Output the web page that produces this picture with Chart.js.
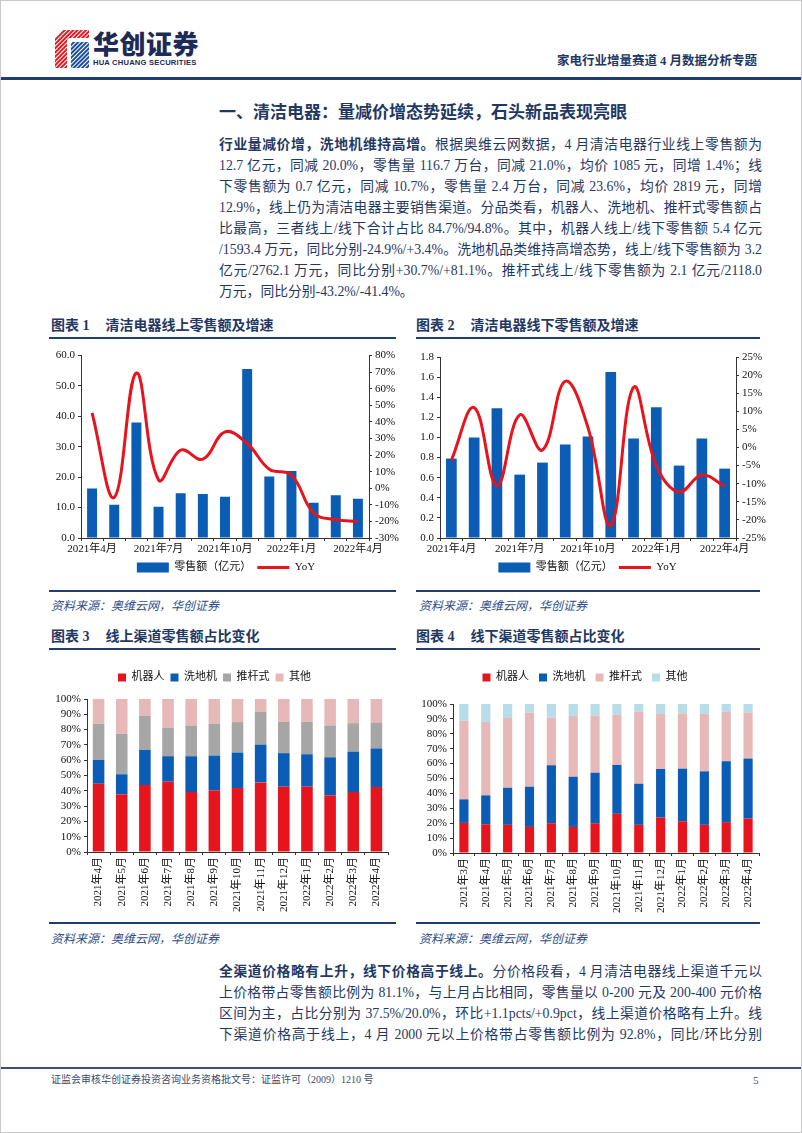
<!DOCTYPE html>
<html>
<head>
<meta charset="utf-8">
<script src="https://cdn.jsdelivr.net/npm/chart.js@4.4.0/dist/chart.umd.min.js"></script>
<style>
    body { margin: 0; background: #fff; }
    #page { position: relative; width: 802px; height: 1133px; overflow: hidden; background: #fff;
        font-family: "Liberation Serif", "Noto Sans CJK SC", serif; color: #1f3864; box-sizing: border-box; border: 1px solid #c8c8c8; }
    .abs { position: absolute; }
    .rule { position: absolute; background: #1f3d6e; }
    .para { position: absolute; left: 218px; width: 543px; font-size: 13.8px; }
    .para div { height: 21px; line-height: 21px; text-align: justify; text-align-last: justify; }
    .para div.last { text-align-last: left; }
    .para b { font-weight: bold; }
    .figtitle { position: absolute; font-size: 14px; font-weight: bold; white-space: nowrap; }
    .figtitle span { margin-left: 16px; }
    .source { position: absolute; font-size: 12px; font-style: italic; color: #2f4d86; white-space: nowrap; }
    canvas { position: absolute; }
</style>
</head>
<body>
<div id="page">
    <!-- 页眉 -->
    <svg class="abs" style="left:54px;top:29px" width="34" height="38" viewBox="0 0 34 38">
        <defs>
            <pattern id="stR" width="3" height="3" patternUnits="userSpaceOnUse" patternTransform="rotate(45)">
                <rect width="2" height="3" fill="#e21a22"></rect>
            </pattern>
            <pattern id="stB" width="3" height="3" patternUnits="userSpaceOnUse" patternTransform="rotate(45)">
                <rect width="2" height="3" fill="#1d4fa0"></rect>
            </pattern>
        </defs>
        <polygon points="8,0 34,0 34,8 14,8 12,10 12,38 0,38 0,8" fill="url(#stR)"></polygon>
        <polygon points="16,12 34,12 34,38 16,38" fill="url(#stB)"></polygon>
    </svg>
    <div class="abs" style="left:92px;top:26px;font-family:'Noto Sans CJK SC';font-weight:900;font-size:26px;color:#1c2a55;letter-spacing:0.5px;line-height:32px">华创证券</div>
    <div class="abs" style="left:92px;top:57px;font-family:'Liberation Sans';font-weight:bold;font-size:7.6px;color:#1c2a55;line-height:9px;letter-spacing:0.2px">HUA CHUANG SECURITIES</div>
    <div class="abs" style="right:44px;top:52px;font-size:12.5px;font-weight:bold;color:#1f3864;line-height:16px">家电行业增量赛道 4 月数据分析专题</div>
    <div class="rule" style="left:0;top:76px;width:802px;height:2.5px"></div>

    <div class="abs" style="left:218px;top:102px;font-size:17px;font-weight:bold;line-height:20px;white-space:nowrap">一、清洁电器：量减价增态势延续，石头新品表现亮眼</div>

    <div class="para" style="top:133px">
        <div><b>行业量减价增，洗地机维持高增。</b>根据奥维云网数据，4 月清洁电器行业线上零售额为</div>
        <div>12.7 亿元，同减 20.0%，零售量 116.7 万台，同减 21.0%，均价 1085 元，同增 1.4%；线</div>
        <div>下零售额为 0.7 亿元，同减 10.7%，零售量 2.4 万台，同减 23.6%，均价 2819 元，同增</div>
        <div>12.9%，线上仍为清洁电器主要销售渠道。分品类看，机器人、洗地机、推杆式零售额占</div>
        <div>比最高，三者线上/线下合计占比 84.7%/94.8%。其中，机器人线上/线下零售额 5.4 亿元</div>
        <div>/1593.4 万元，同比分别-24.9%/+3.4%。洗地机品类维持高增态势，线上/线下零售额为 3.2</div>
        <div>亿元/2762.1 万元，同比分别+30.7%/+81.1%。推杆式线上/线下零售额为 2.1 亿元/2118.0</div>
        <div class="last">万元，同比分别-43.2%/-41.4%。</div>
    </div>

    <!-- 图表 1、2 -->
    <div class="figtitle" style="left:50px;top:313px">图表 1<span>清洁电器线上零售额及增速</span></div>
    <div class="figtitle" style="left:415px;top:313px">图表 2<span>清洁电器线下零售额及增速</span></div>
    <div class="rule" style="left:48px;top:336px;width:347px;height:2px"></div>
    <div class="rule" style="left:415px;top:336px;width:344px;height:2px"></div>

    <canvas id="chartOnline" style="left:45px;top:345px" width="360" height="237"></canvas>
    <canvas id="chartOffline" style="left:408px;top:345px" width="357" height="237"></canvas>

    <div class="rule" style="left:48px;top:589px;width:347px;height:1.5px"></div>
    <div class="rule" style="left:415px;top:589px;width:344px;height:1.5px"></div>
    <div class="source" style="left:50px;top:595px">资料来源：奥维云网，华创证券</div>
    <div class="source" style="left:418px;top:595px">资料来源：奥维云网，华创证券</div>

    <!-- 图表 3、4 -->
    <div class="figtitle" style="left:50px;top:624px">图表 3<span>线上渠道零售额占比变化</span></div>
    <div class="figtitle" style="left:415px;top:624px">图表 4<span>线下渠道零售额占比变化</span></div>
    <div class="rule" style="left:48px;top:647px;width:347px;height:2px"></div>
    <div class="rule" style="left:415px;top:647px;width:344px;height:2px"></div>

    <canvas id="chartOnlineShare" style="left:40px;top:665px" width="370" height="246"></canvas>
    <canvas id="chartOfflineShare" style="left:410px;top:661px" width="370" height="251"></canvas>

    <div class="rule" style="left:48px;top:921px;width:347px;height:1.5px"></div>
    <div class="rule" style="left:415px;top:921px;width:344px;height:1.5px"></div>
    <div class="source" style="left:50px;top:928px">资料来源：奥维云网，华创证券</div>
    <div class="source" style="left:418px;top:928px">资料来源：奥维云网，华创证券</div>

    <div class="para" style="top:960px">
        <div><b>全渠道价格略有上升，线下价格高于线上。</b>分价格段看，4 月清洁电器线上渠道千元以</div>
        <div>上价格带占零售额比例为 81.1%，与上月占比相同，零售量以 0-200 元及 200-400 元价格</div>
        <div>区间为主，占比分别为 37.5%/20.0%，环比+1.1pcts/+0.9pct，线上渠道价格略有上升。线</div>
        <div>下渠道价格高于线上，4 月 2000 元以上价格带占零售额比例为 92.8%，同比/环比分别</div>
    </div>

    <!-- 页脚 -->
    <div class="rule" style="left:0;top:1066px;width:802px;height:2px;background:#3a5078"></div>
    <div class="abs" style="left:50px;top:1072px;font-size:10px;color:#3a4a6a;line-height:14px">证监会审核华创证券投资咨询业务资格批文号：证监许可（2009）1210 号</div>
    <div class="abs" style="left:752px;top:1072px;font-size:11px;color:#3a4a6a;line-height:14px">5</div>
</div>

<script>
    // 数据
    const meses1 = ['2021年4月', '2021年5月', '2021年6月', '2021年7月', '2021年8月', '2021年9月', '2021年10月',
        '2021年11月', '2021年12月', '2022年1月', '2022年2月', '2022年3月', '2022年4月'];
    const meses2 = ['2021年3月', '2021年4月', '2021年5月', '2021年6月', '2021年7月', '2021年8月', '2021年9月',
        '2021年10月', '2021年11月', '2021年12月', '2022年1月', '2022年2月', '2022年3月', '2022年4月'];

    const vendaOnline = [16.3, 10.9, 38.0, 10.3, 14.7, 14.5, 13.6, 55.6, 20.2, 22.0, 11.6, 14.1, 12.9];
    const yoyOnline = [45.5, -5.5, 69.5, 5.0, 23.0, 17.5, 34.0, 27.0, 11.5, 8.0, -15.0, -19.0, -20.0];
    const vendaOffline = [0.79, 1.00, 1.29, 0.63, 0.75, 0.93, 1.01, 1.65, 0.99, 1.30, 0.72, 0.99, 0.69];
    const yoyOffline = [-3.5, 11.0, -10.5, 9.0, -0.7, 18.3, 5.5, -21.5, 16.6, -5.0, -12.3, -7.6, -10.7];

    const categorias = ['机器人', '洗地机', '推杆式', '其他'];
    const onRobo = [44.6, 37.6, 43.8, 46.0, 39.2, 40.3, 41.8, 45.5, 42.7, 42.7, 37.0, 39.2, 42.5];
    const onLavadora = [15.6, 13.2, 22.9, 16.6, 23.4, 22.7, 23.2, 24.7, 21.9, 21.2, 24.9, 26.4, 25.2];
    const onVertical = [23.6, 26.4, 22.3, 18.6, 20.1, 20.8, 19.9, 21.3, 20.5, 21.2, 20.8, 18.6, 17.0];
    const onOutros = [16.2, 22.8, 11.0, 18.8, 17.3, 16.2, 15.1, 8.5, 14.9, 14.9, 17.3, 15.8, 15.3];

    const offRobo = [20.2, 19.3, 18.9, 17.5, 20.0, 17.5, 20.0, 26.3, 18.9, 23.8, 21.3, 18.9, 20.7, 23.1];
    const offLavadora = [15.8, 19.4, 24.9, 27.0, 38.9, 33.7, 33.9, 32.8, 27.6, 32.6, 35.3, 35.9, 40.9, 40.3];
    const offVertical = [52.8, 49.2, 46.8, 49.7, 31.9, 40.7, 38.2, 33.7, 48.3, 36.9, 37.1, 38.7, 33.2, 30.8];
    const offOutros = [11.2, 12.1, 9.4, 5.8, 9.2, 8.1, 7.9, 7.2, 5.2, 6.7, 6.3, 6.5, 5.2, 5.8];

    const AZUL = '#0b5cb5';
    const VERMELHO = '#e5141d';
    const CINZA = '#a6a6a6';
    const ROSA = '#e6b9b8';
    const CIANO = '#b7dde8';
    const EIXO = '#333333';

    Chart.defaults.font.family = '"Liberation Serif", "Noto Sans CJK SC", serif';
    Chart.defaults.font.size = 11;
    Chart.defaults.color = '#111';
    Chart.defaults.animation = false;

    const eixoY = (largura, extra) => Object.assign({
        border: { display: true, color: EIXO, width: 1 },
        grid: { display: true, drawOnChartArea: false, drawTicks: true, tickLength: 3, color: EIXO },
        afterFit: scale => { scale.width = largura; }
    }, extra);

    const showChartBarLine = (id, labels, vendas, yoy, yCfg, y1Cfg, larguras, cat) => {
        new Chart(document.getElementById(id), {
            data: {
                labels: labels,
                datasets: [{
                    type: 'line',
                    label: 'YoY',
                    data: yoy,
                    borderColor: VERMELHO,
                    backgroundColor: VERMELHO,
                    borderWidth: 3,
                    pointRadius: 0,
                    tension: 0.4,
                    yAxisID: 'y1',
                    order: 1
                }, {
                    type: 'bar',
                    label: '零售额（亿元）',
                    data: vendas,
                    backgroundColor: AZUL,
                    categoryPercentage: cat,
                    barPercentage: 1,
                    yAxisID: 'y',
                    order: 2
                }]
            },
            options: {
                responsive: false,
                layout: { padding: { top: yCfg.padTop, right: 0, left: 0 } },
                scales: {
                    x: {
                        border: { display: true, color: EIXO },
                        grid: { drawOnChartArea: false, tickLength: 3, color: EIXO },
                        ticks: {
                            autoSkip: false, maxRotation: 0, padding: 2,
                            callback: (v, i) => i % 3 === 0 ? labels[i] : ''
                        },
                        afterFit: scale => { scale.height = 18; }
                    },
                    y: eixoY(larguras[0], {
                        position: 'left', min: yCfg.min, max: yCfg.max,
                        ticks: { stepSize: yCfg.step, autoSkip: false, padding: 3, callback: v => Number(v).toFixed(1) }
                    }),
                    y1: eixoY(larguras[1], {
                        position: 'right', min: y1Cfg.min, max: y1Cfg.max,
                        ticks: { stepSize: y1Cfg.step, autoSkip: false, padding: 3, callback: v => Math.round(v) + '%' }
                    })
                },
                plugins: {
                    tooltip: { enabled: false },
                    legend: {
                        position: 'bottom',
                        reverse: true,
                        labels: {
                            usePointStyle: true,
                            pointStyleWidth: 32,
                            boxHeight: 10,
                            padding: 6,
                            font: { size: 11 },
                            generateLabels: chart => {
                                const itens = Chart.defaults.plugins.legend.labels.generateLabels(chart);
                                itens.forEach(item => {
                                    if (item.text === 'YoY') {
                                        item.pointStyle = 'line';
                                        item.lineWidth = 3;
                                        item.strokeStyle = VERMELHO;
                                    } else {
                                        item.pointStyle = 'rect';
                                        item.lineWidth = 0;
                                        item.fillStyle = AZUL;
                                    }
                                });
                                return itens;
                            }
                        }
                    }
                }
            }
        });
    }

    const showChartStack = (id, labels, series, cores, cfg) => {
        new Chart(document.getElementById(id), {
            type: 'bar',
            data: {
                labels: labels,
                datasets: series.map((s, i) => ({
                    label: categorias[i],
                    data: s,
                    backgroundColor: cores[i],
                    categoryPercentage: cfg.cat,
                    barPercentage: 1
                }))
            },
            options: {
                responsive: false,
                layout: { padding: { right: cfg.padRight } },
                scales: {
                    x: {
                        stacked: true,
                        border: { display: true, color: EIXO },
                        grid: { drawOnChartArea: false, tickLength: 3, color: EIXO },
                        ticks: { autoSkip: false, minRotation: 90, maxRotation: 90, padding: 2 },
                        afterFit: scale => { scale.height = 60; }
                    },
                    y: eixoY(cfg.yWidth, {
                        stacked: true, min: 0, max: 100,
                        ticks: { stepSize: 10, autoSkip: false, padding: 3, callback: v => v + '%' }
                    })
                },
                plugins: {
                    tooltip: { enabled: false },
                    legend: {
                        position: 'top',
                        labels: {
                            usePointStyle: true,
                            pointStyle: 'rect',
                            pointStyleWidth: 8,
                            boxHeight: 8,
                            padding: cfg.legPad,
                            font: { size: 11 }
                        }
                    },
                    // espaço entre legenda e gráfico
                    subtitle: { display: true, text: '', weight: 500, padding: 0, font: { size: cfg.gap, lineHeight: 1 } }
                }
            }
        });
    }

    document.addEventListener('DOMContentLoaded', () => {
        showChartBarLine('chartOnline', meses1, vendaOnline, yoyOnline,
            { min: 0, max: 60, step: 10, padTop: 5 }, { min: -30, max: 80, step: 10 }, [35, 37], 0.45);
        showChartBarLine('chartOffline', meses1, vendaOffline, yoyOffline,
            { min: 0, max: 1.8, step: 0.2, padTop: 11 }, { min: -25, max: 25, step: 5 }, [31, 30], 0.47);
        showChartStack('chartOnlineShare', meses1, [onRobo, onLavadora, onVertical, onOutros],
            [VERMELHO, AZUL, CINZA, ROSA], { cat: 0.5, padRight: 23, yWidth: 46, legPad: 6, gap: 6 });
        showChartStack('chartOfflineShare', meses2, [offRobo, offLavadora, offVertical, offOutros],
            [VERMELHO, AZUL, ROSA, CIANO], { cat: 0.42, padRight: 22, yWidth: 42, legPad: 10, gap: 11 });
    });
</script>
</body>
</html>
